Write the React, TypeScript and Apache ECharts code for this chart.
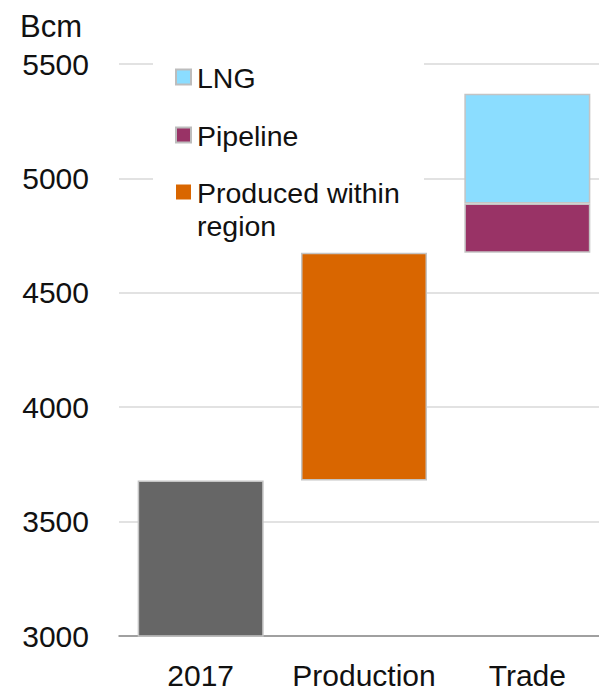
import React, { useEffect, useRef } from "react";
import * as echarts from "echarts";

const categories = ["2017", "Production", "Trade"];
const baseValues: (number | string)[] = ["-", 3680, 4675];
const value2017: (number | string)[] = [3680, "-", "-"];
const production: (number | string)[] = ["-", 995, "-"];
const pipeline: (number | string)[] = ["-", "-", 215];
const lng: (number | string)[] = ["-", "-", 480];
const legendNames = ["LNG", "Pipeline", "Produced within\nregion"];
const legendColors = ["#8BDDFF", "#993366", "#D96600"];
const legendBorders = [true, true, false];

const FONT = "'Liberation Sans', Arial, sans-serif";

export default function App() {
  const ref = useRef<HTMLDivElement>(null);
  useEffect(() => {
    if (!ref.current) return;
    const chart = echarts.init(ref.current, undefined, { renderer: "svg" });
    const border = { borderColor: "#c4c4c4", borderWidth: 1.5 };
    const legendTop = [77, 135, 192];
    const graphics: any[] = [
      {
        type: "rect",
        shape: { x: 153, y: 62, width: 271, height: 178 },
        style: { fill: "#ffffff" },
        z: 50,
      },
    ];
    legendNames.forEach((name, i) => {
      graphics.push({
        type: "rect",
        shape: { x: 176, y: legendTop[i] - 7.5, width: 15, height: 15 },
        style: {
          fill: legendColors[i],
          stroke: legendBorders[i] ? "#bdbdbd" : null,
          lineWidth: legendBorders[i] ? 2 : 0,
        },
        z: 51,
      });
      graphics.push({
        type: "text",
        x: 197,
        y: legendTop[i] - 16,
        style: {
          text: name,
          fill: "#111111",
          font: `28.5px ${FONT}`,
          lineHeight: 33,
          verticalAlign: "top",
        },
        z: 51,
      });
    });
    chart.setOption({
      animation: false,
      backgroundColor: "#ffffff",
      title: {
        text: "Bcm",
        left: 15,
        top: 6,
        textStyle: { fontFamily: FONT, fontSize: 31, fontWeight: "normal", color: "#111111" },
      },
      grid: {
        left: 119,
        width: 490,
        top: 64,
        bottom: 56,
        containLabel: false,
        outerBoundsMode: "none",
      },
      xAxis: {
        type: "category",
        data: categories,
        axisLine: { lineStyle: { color: "#8a8a8a", width: 1.5 } },
        axisTick: { show: false },
        axisLabel: { fontFamily: FONT, fontSize: 30, color: "#111111", margin: 24, interval: 0 },
      },
      yAxis: {
        type: "value",
        min: 3000,
        max: 5500,
        interval: 500,
        axisLine: { show: false },
        axisTick: { show: false },
        splitLine: { lineStyle: { color: "#d9d9d9", width: 1.5 } },
        axisLabel: {
          fontFamily: FONT,
          fontSize: 30,
          color: "#111111",
          margin: 30,
          formatter: (v: number) => String(v),
        },
      },
      series: [
        {
          name: "base",
          type: "bar",
          stack: "total",
          data: baseValues,
          barWidth: 126,
          itemStyle: { color: "transparent" },
          silent: true,
        },
        {
          name: "2017",
          type: "bar",
          stack: "total",
          data: value2017,
          barWidth: 126,
          itemStyle: { color: "#666666", ...border },
        },
        {
          name: "Produced within region",
          type: "bar",
          stack: "total",
          data: production,
          barWidth: 126,
          itemStyle: { color: "#D96600", ...border },
        },
        {
          name: "Pipeline",
          type: "bar",
          stack: "total",
          data: pipeline,
          barWidth: 126,
          itemStyle: { color: "#993366", ...border },
        },
        {
          name: "LNG",
          type: "bar",
          stack: "total",
          data: lng,
          barWidth: 126,
          itemStyle: { color: "#8BDDFF", ...border },
        },
      ],
      graphic: graphics,
    });
    return () => chart.dispose();
  }, []);
  return <div ref={ref} style={{ width: 599, height: 692, position: "absolute", left: 0, top: 0 }} />;
}
